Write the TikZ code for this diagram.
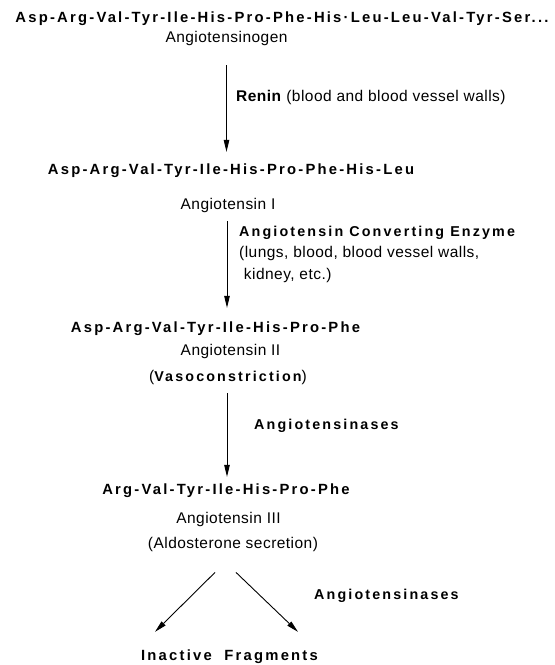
\documentclass[tikz,border=0pt]{standalone}
\usepackage{fontspec}
\setmainfont{Liberation Sans}
\newfontfamily\seqfont[LetterSpace=15]{Liberation Sans}
\newfontfamily\namefont[LetterSpace=3]{Liberation Sans}
\newcommand{\boldlab}[1]{{\seqfont\bfseries\fontsize{14.3}{21.5}\selectfont #1}}
\usetikzlibrary{arrows.meta,calc}
\tikzset{
  seqtext/.style = {font=\seqfont\bfseries\fontsize{14.8}{16}\selectfont, inner sep=1pt},
  molname/.style = {font=\namefont\fontsize{15.5}{17}\selectfont, inner sep=1pt},
  enz/.style = {font=\namefont\fontsize{15.5}{21.5}\selectfont, inner sep=1pt, anchor=west, align=left},
  conv/.style = {-{Triangle[length=12pt,width=5.5pt]}, line width=0.9pt},
}
\begin{document}
\begin{tikzpicture}[x=1pt, y=-1pt]
\useasboundingbox (0,0) rectangle (555,665);

\node[seqtext] (seq0) at (282,19) {Asp-Arg-Val-Tyr-Ile-His-Pro-Phe-His·Leu-Leu-Val-Tyr-Ser...};
\node[molname] (ang0) at (226.5,38) {Angiotensinogen};

\node[seqtext] (seq1) at (231,171) {Asp-Arg-Val-Tyr-Ile-His-Pro-Phe-His-Leu};
\node[molname] (ang1) at (228,205) {Angiotensin I};

\node[seqtext] (seq2) at (215.5,329) {Asp-Arg-Val-Tyr-Ile-His-Pro-Phe};
\node[molname] (ang2) at (230.5,351) {Angiotensin II};
\node[molname] (vaso) at (228,377) {(\boldlab{Vasoconstriction})};

\node[seqtext] (seq3) at (226,491) {Arg-Val-Tyr-Ile-His-Pro-Phe};
\node[molname] (ang3) at (228.5,519) {Angiotensin III};
\node[molname] (aldo) at (233,544) {(Aldosterone secretion)};

\node[seqtext] (frag) at (229.5,657) {Inactive\ \ Fragments};

% enzymes
\node[enz] (renin) at (235,97) {\textbf{Renin} (blood and blood vessel walls)};
\node[enz] (ace) at (238,254) {\boldlab{Angiotensin Converting Enzyme}\\(lungs, blood, blood vessel walls,\\\ kidney, etc.)};
\node[enz] (ase1) at (253,426) {\boldlab{Angiotensinases}};
\node[enz] (ase2) at (313,596) {\boldlab{Angiotensinases}};

% arrows
\draw[conv, shorten <=19pt, shorten >=11pt] (ang0.south) -- (ang0.south |- seq1.north);
\draw[conv, shorten <=8pt, shorten >=13pt] (ang1.south) ++(-1,0) coordinate (a1) -- (a1 |- seq2.north);
\draw[conv, shorten <=8pt, shorten >=6pt] (vaso.south) ++(-1,0) coordinate (a2) -- (a2 |- seq3.north);
\coordinate (sl) at ($(aldo.south)+(-18,20)$);
\coordinate (sr) at ($(aldo.south)+(3,20)$);
\draw[conv] (sl) -- ($(frag.north)+(-74.5,-17)$);
\draw[conv] (sr) -- ($(frag.north)+(68.5,-17)$);
\end{tikzpicture}
\end{document}
